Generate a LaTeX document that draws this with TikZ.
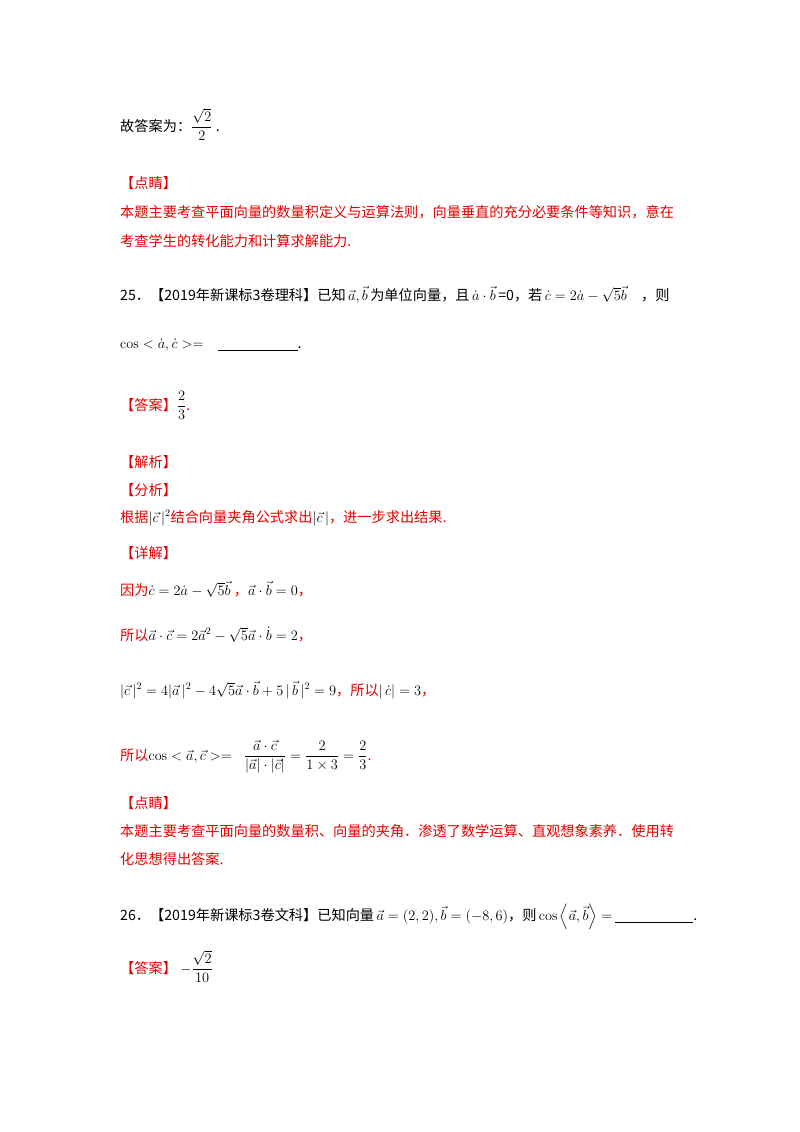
\documentclass[tikz,border=0pt]{standalone}
\usepackage{amsmath}
\usepackage{fontspec}
\newfontfamily\cjk{Noto Sans CJK SC}
\definecolor{rd}{RGB}{230,0,0}
\begin{document}
\begin{tikzpicture}[x=1pt,y=-1pt,
  t/.style={anchor=base west,inner sep=0pt,font=\fontsize{14.2}{16}\cjk},
  r/.style={t,text=rd}]
\useasboundingbox[fill=white] (0,0) rectangle (800,1132);
\node[t] (l1) at (120,131) {故答案为：$\dfrac{\sqrt2}{2}$\ .};
\node[r] (l2) at (120,188) {【点睛】};
\node[r] (l3) at (120,217) {本题主要考查平面向量的数量积定义与运算法则，向量垂直的充分必要条件等知识，意在};
\node[r] (l4) at (120,246) {考查学生的转化能力和计算求解能力.};
\node[t] (l5) at (120,300) {25．【2019年新课标3卷理科】已知$\,\vec a,\vec b\,$为单位向量，且$\,\dot a\cdot\vec b\,$=0，若$\,\dot c=2\dot a-\sqrt5\vec b$\quad，则};
\node[t] (l6) at (120,348) {$\cos<\dot a,\dot c>=$\quad\underline{\hspace{80pt}}.};
\node[r] (l7) at (120,410) {【答案】\textcolor{black}{$\dfrac{2}{3}$}.};
\node[r] (l8) at (120,467) {【解析】};
\node[r] (l9) at (120,495) {【分析】};
\node[r] (l10) at (120,522) {根据\textcolor{black}{$|\vec c\,|^2$}结合向量夹角公式求出\textcolor{black}{$|\vec c\,|$}，进一步求出结果.};
\node[r] (l11) at (120,558) {【详解】};
\node[r] (l12) at (120,595) {因为\textcolor{black}{$\dot c=2\dot a-\sqrt5\vec b$}\ ，\textcolor{black}{$\vec a\cdot\vec b=0$}，};
\node[r] (l13) at (120,640) {所以\textcolor{black}{$\vec a\cdot\vec c=2\vec a^2-\sqrt5\vec a\cdot\dot b=2$}，};
\node[r] (l14) at (120,695) {\textcolor{black}{$|\vec c\,|^2=4|\vec a\,|^2-4\sqrt5\vec a\cdot\vec b+5\,|\,\vec b\,|^2=9$}，所以\textcolor{black}{$|\,\dot c|=3$}，};
\node[r] (l15) at (120,760) {所以\textcolor{black}{$\cos<\vec a,\vec c>=\;\;\dfrac{\vec a\cdot\vec c}{|\vec a|\cdot|\vec c|}=\dfrac{2}{1\times3}=\dfrac23$}.};
\node[r] (l16) at (120,808) {【点睛】};
\node[r] (l17) at (120,836) {本题主要考查平面向量的数量积、向量的夹角．渗透了数学运算、直观想象素养．使用转};
\node[r] (l18) at (120,864) {化思想得出答案.};
\node[t] (l19) at (120,920) {26．【2019年新课标3卷文科】已知向量$\,\vec a=(2,2),\vec b=(-8,6)$，则$\,\cos\left\langle \vec a,\vec b\right\rangle=$\ \underline{\hspace{78pt}}.};
\node[r] (l20) at (120,973) {【答案】\ \textcolor{black}{$-\dfrac{\sqrt2}{10}$}};
\end{tikzpicture}
\end{document}
